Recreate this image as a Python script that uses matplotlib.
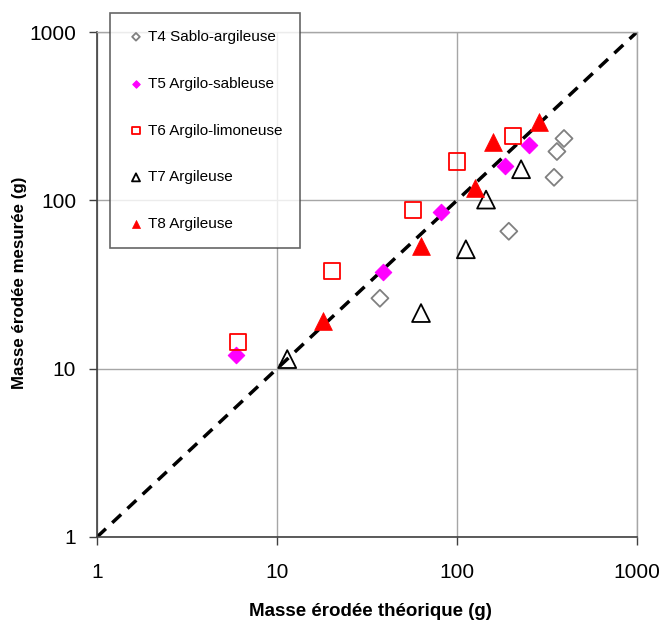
import matplotlib
matplotlib.use("Agg")
import matplotlib.pyplot as plt

plt.rcParams['font.family'] = ['Liberation Sans', 'DejaVu Sans']

t4_x = [37.3, 194, 346, 359, 393]
t4_y = [26.2, 65.5, 137, 195, 233]
t5_x = [5.92, 38.8, 81.5, 185, 251]
t5_y = [12.0, 37.4, 84.9, 161, 212]
t6_x = [6.07, 20.2, 57.0, 100, 205]
t6_y = [14.4, 37.9, 87.2, 170, 240]
t7_x = [11.4, 63.1, 112, 145, 227]
t7_y = [11.4, 21.4, 51.2, 101, 153]
t8_x = [18.0, 63.1, 126, 158, 285]
t8_y = [19.1, 53.3, 119, 221, 290]
line_xy = [1, 1000]
ticks = [1, 10, 100, 1000]
tick_labels = ['1', '10', '100', '1000']

fig = plt.figure(figsize=(6.64, 6.21), dpi=100)
ax = fig.add_axes([97/664, 1-537/621, 540/664, 505/621])
ax.set_xscale('log')
ax.set_yscale('log')
ax.set_xlim(1, 1000)
ax.set_ylim(1, 1000)

ax.plot(line_xy, line_xy, color='black', lw=2.5, ls=(0, (3.5, 2.5)), zorder=2)

ax.scatter(t4_x, t4_y, marker='D', s=75, facecolors='none', edgecolors='#808080', linewidths=1.3, zorder=3, label='T4 Sablo-argileuse')
ax.scatter(t5_x, t5_y, marker='D', s=70, facecolors='#FF00FF', edgecolors='#FF00FF', linewidths=0.8, zorder=3, label='T5 Argilo-sableuse')
ax.scatter(t6_x, t6_y, marker='s', s=135, facecolors='none', edgecolors='#FF0000', linewidths=1.3, zorder=3, label='T6 Argilo-limoneuse')
ax.scatter(t7_x, t7_y, marker='^', s=165, facecolors='none', edgecolors='black', linewidths=1.3, zorder=3, label='T7 Argileuse')
ax.scatter(t8_x, t8_y, marker='^', s=165, facecolors='#FF0000', edgecolors='#FF0000', linewidths=0.5, zorder=3, label='T8 Argileuse')

ax.set_xticks(ticks)
ax.set_xticklabels(tick_labels)
ax.set_yticks(ticks)
ax.set_yticklabels(tick_labels)
ax.minorticks_off()
ax.tick_params(axis='both', direction='out', length=6, width=1, color='#404040', labelsize=15)
ax.tick_params(axis='y', pad=9)
ax.tick_params(axis='x', pad=13)
ax.grid(True, color='#A6A6A6', lw=1)
ax.set_axisbelow(True)
for s in ['top', 'right']:
    ax.spines[s].set_color('#A6A6A6')
    ax.spines[s].set_linewidth(1)
for s in ['left', 'bottom']:
    ax.spines[s].set_color('#404040')
    ax.spines[s].set_linewidth(1.2)

fig.text(370/664, 1-611/621, 'Masse érodée théorique (g)', fontsize=13.5, fontweight='bold',
         ha='center', va='center')
fig.text(20/664, 1-283/621, 'Masse érodée mesurée (g)', fontsize=12.2, fontweight='bold',
         ha='center', va='center', rotation=90)

leg = ax.legend(loc='upper left', bbox_to_anchor=((110-97)/540, (537-13)/505), fontsize=11,
                frameon=True, fancybox=False, edgecolor='#404040', labelspacing=2.15,
                borderpad=1.1, handletextpad=0.2, markerscale=0.45, borderaxespad=0,
                handlelength=1.2)
leg.get_frame().set_linewidth(1.2)

fig.savefig('out.png', dpi=100, facecolor='white')
